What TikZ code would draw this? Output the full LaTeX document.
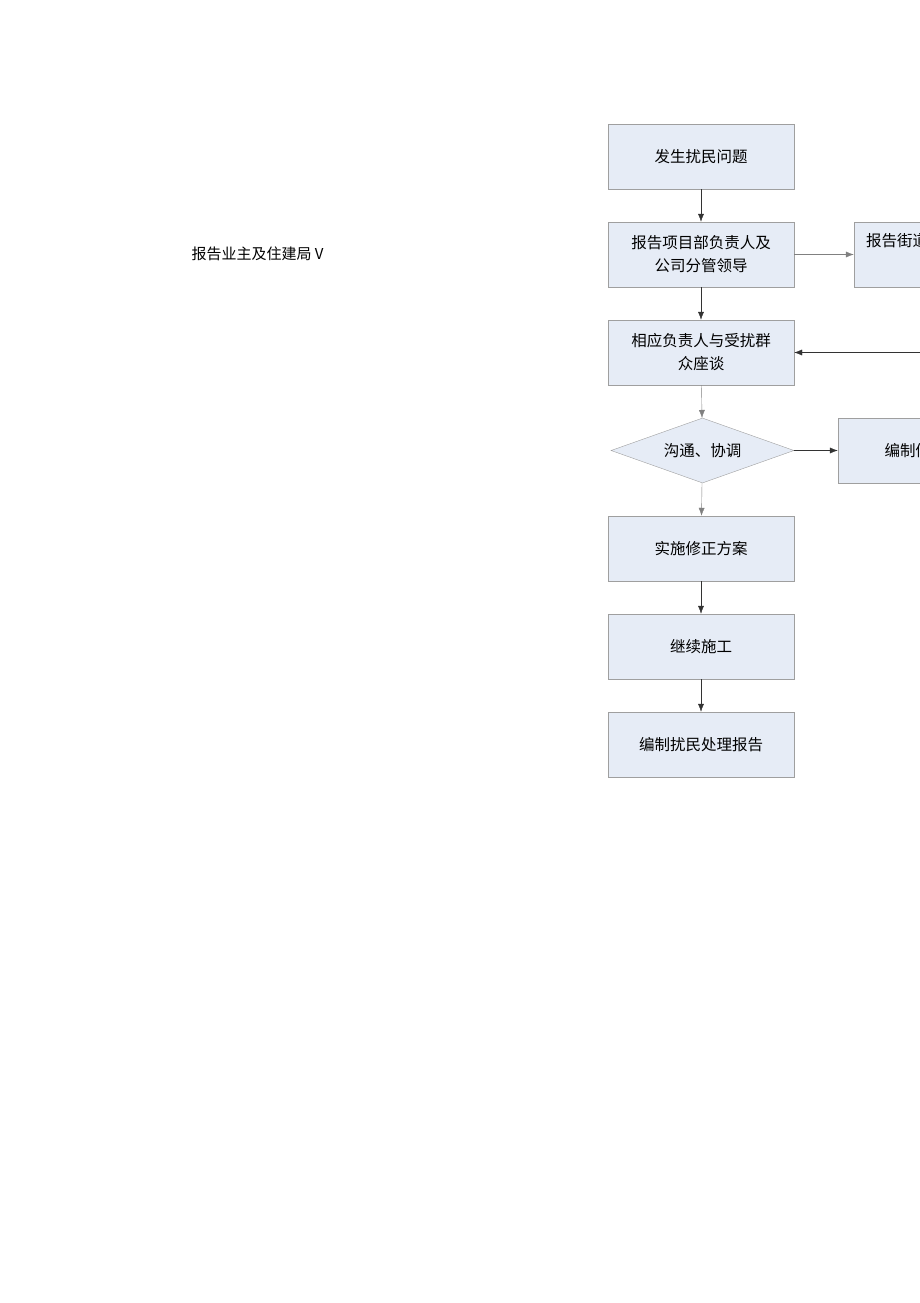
\documentclass[tikz,border=0pt]{standalone}
\usepackage{fontspec}
\newfontfamily\cjk{Noto Sans CJK SC}
\usetikzlibrary{arrows,shapes.geometric}
\definecolor{boxfill}{HTML}{E6ECF6}
\tikzset{
  box/.style={draw=gray!75,fill=boxfill,minimum width=186pt,minimum height=65pt,inner sep=0pt,align=center,font=\cjk\fontsize{15.5}{23}\selectfont},
  choice/.style={diamond,draw=gray!75,fill=boxfill,minimum width=183pt,minimum height=65pt,aspect=2.8,inner sep=0pt,font=\cjk\fontsize{15.5}{23}\selectfont},
  link/.style={-{Latex[length=8pt,width=6pt]},thin,black!80}
}
\usetikzlibrary{arrows.meta}
\begin{document}
\begin{tikzpicture}[x=1pt,y=-1pt]
        \useasboundingbox (0,0) rectangle (920,1303);
        \clip (0,0) rectangle (920,1303);
        %
        \node[font=\cjk\fontsize{15}{18}\selectfont,anchor=west] (owner) at (188,254) {报告业主及住建局 V};
        %
        \node[box] (issue) at (701,156.5) {发生扰民问题};
        \node[box] (report) at (701,254.5) {报告项目部负责人及\\公司分管领导};
        \node[box] (talk) at (701,352.5) {相应负责人与受扰群\\众座谈};
        \node[choice] (coord) at (702.5,450.5) {沟通、协调};
        \node[box] (apply) at (701,548.5) {实施修正方案};
        \node[box] (resume) at (701,646.5) {继续施工};
        \node[box] (final) at (701,744.5) {编制扰民处理报告};
        %
        \node[box] (street) at (947,254.5) {};
        \node[font=\cjk\fontsize{15.5}{23}\selectfont,anchor=west,inner sep=0pt] (streettext) at (866,241) {报告街道办事处};
        \node[box] (revise) at (931,450.5) {编制修正方案};
        \coordinate (back) at (920,352.5);
        %
        \draw[link] (issue) -- (report);
        \draw[link] (report) -- (talk);
        \draw[link,gray] (talk) -- (coord);
        \draw[link,gray] (coord) -- (apply);
        \draw[link] (apply) -- (resume);
        \draw[link] (resume) -- (final);
        \draw[link,gray] (report) -- (street);
        \draw[link] (coord) -- (revise);
        \draw[link] (back) -- (talk);
      \end{tikzpicture}
\end{document}
